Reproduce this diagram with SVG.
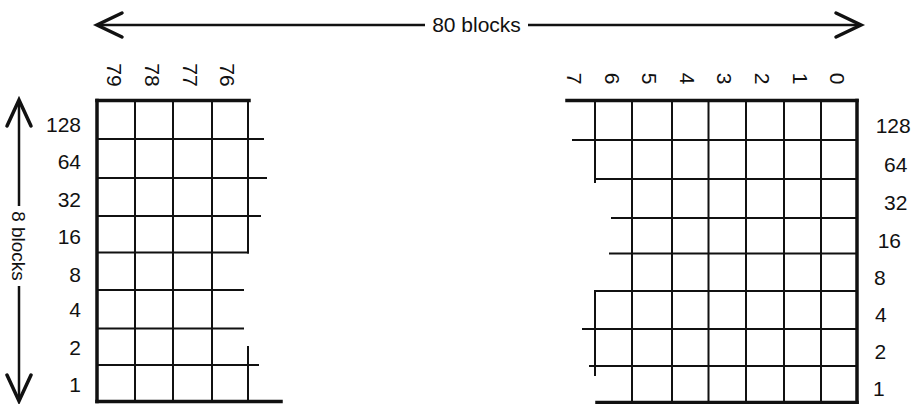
<svg xmlns="http://www.w3.org/2000/svg" width="922" height="404" viewBox="0 0 922 404">
<style>
  .bg{fill:#fff}
  .g{stroke:#111;stroke-width:2;fill:none;stroke-linecap:square}
  .t{stroke:#111;stroke-width:3.5;fill:none;stroke-linecap:square}
  .ar{stroke:#111;stroke-width:2.5;fill:none}
  .ah{stroke:#111;stroke-width:3.5;fill:none;stroke-linejoin:miter;stroke-linecap:round}
  text{font-family:"Liberation Sans",Arial,sans-serif;font-size:21px;fill:#111}
  .rl{text-anchor:end}
  .vt{text-anchor:middle}
</style>
<rect class="bg" x="0" y="0" width="922" height="404"/>

<g id="connectors">
  <g id="width-arrow">
    <line class="ar" x1="98" y1="25" x2="425" y2="25"/>
    <line class="ar" x1="528" y1="25" x2="860" y2="25"/>
    <polyline class="ah" points="122,13 97,25 122,37"/>
    <polyline class="ah" points="836,13 861,25 836,37"/>
    <text x="476.5" y="32" text-anchor="middle">80 blocks</text>
  </g>
  <g id="height-arrow">
    <line class="ar" x1="19" y1="101" x2="19" y2="206"/>
    <line class="ar" x1="19" y1="286" x2="19" y2="400"/>
    <polyline class="ah" points="7,126 19,100 31,126"/>
    <polyline class="ah" points="7,375 19,401 31,375"/>
    <text class="vt" transform="translate(12,246) rotate(90)" style="font-size:19px">8 blocks</text>
  </g>
</g>

<g id="left-grid">
  <line class="g" x1="135" y1="101" x2="135" y2="401"/>
  <line class="g" x1="173" y1="101" x2="173" y2="401"/>
  <line class="g" x1="212" y1="101" x2="212" y2="401"/>
  <line class="g" x1="248" y1="101" x2="248" y2="252.5"/>
  <line class="g" x1="248" y1="347" x2="248" y2="401"/>
  <line class="g" x1="97" y1="139" x2="263" y2="139"/>
  <line class="g" x1="97" y1="178" x2="266" y2="178"/>
  <line class="g" x1="97" y1="216" x2="260" y2="216"/>
  <line class="g" x1="97" y1="252.5" x2="248" y2="252.5"/>
  <line class="g" x1="97" y1="290" x2="243" y2="290"/>
  <line class="g" x1="97" y1="328.5" x2="243" y2="328.5"/>
  <line class="g" x1="97" y1="365" x2="258" y2="365"/>
  <line class="t" x1="97" y1="100.5" x2="249" y2="100.5"/>
  <line class="t" x1="97" y1="100.5" x2="97" y2="401.5"/>
  <line class="t" x1="97" y1="401.5" x2="281" y2="401.5"/>
</g>

<g id="left-labels">
  <text class="vt" transform="translate(107,75) rotate(90)">79</text>
  <text class="vt" transform="translate(145,75) rotate(90)">78</text>
  <text class="vt" transform="translate(183,75) rotate(90)">77</text>
  <text class="vt" transform="translate(220,75) rotate(90)">76</text>
  <text class="rl" x="81" y="131.7">128</text>
  <text class="rl" x="81" y="169">64</text>
  <text class="rl" x="81" y="206.7">32</text>
  <text class="rl" x="81" y="244">16</text>
  <text class="rl" x="81" y="281.7">8</text>
  <text class="rl" x="81" y="317.3">4</text>
  <text class="rl" x="81" y="355">2</text>
  <text class="rl" x="81" y="391.7">1</text>
</g>

<g id="right-grid">
  <line class="g" x1="595" y1="101" x2="595" y2="182"/>
  <line class="g" x1="595" y1="291" x2="595" y2="375"/>
  <line class="g" x1="632" y1="101" x2="632" y2="402"/>
  <line class="g" x1="672" y1="101" x2="672" y2="402"/>
  <line class="g" x1="708.5" y1="101" x2="708.5" y2="402"/>
  <line class="g" x1="746" y1="101" x2="746" y2="402"/>
  <line class="g" x1="784" y1="101" x2="784" y2="402"/>
  <line class="g" x1="821" y1="101" x2="821" y2="402"/>
  <line class="g" x1="573" y1="140" x2="857" y2="140"/>
  <line class="g" x1="595" y1="179" x2="857" y2="179"/>
  <line class="g" x1="612" y1="218" x2="857" y2="218"/>
  <line class="g" x1="610" y1="253.5" x2="857" y2="253.5"/>
  <line class="g" x1="595" y1="291" x2="857" y2="291"/>
  <line class="g" x1="583" y1="329" x2="857" y2="329"/>
  <line class="g" x1="590" y1="366" x2="857" y2="366"/>
  <line class="t" x1="567" y1="100.5" x2="857" y2="100.5"/>
  <line class="t" x1="857" y1="100.5" x2="857" y2="402.5"/>
  <line class="t" x1="597" y1="402.5" x2="857" y2="402.5"/>
</g>

<g id="right-labels">
  <text class="vt" transform="translate(567,78.5) rotate(90)">7</text>
  <text class="vt" transform="translate(605,78.5) rotate(90)">6</text>
  <text class="vt" transform="translate(642,78.5) rotate(90)">5</text>
  <text class="vt" transform="translate(680,78.5) rotate(90)">4</text>
  <text class="vt" transform="translate(717,78.5) rotate(90)">3</text>
  <text class="vt" transform="translate(755,78.5) rotate(90)">2</text>
  <text class="vt" transform="translate(793,78.5) rotate(90)">1</text>
  <text class="vt" transform="translate(830,78.5) rotate(90)">0</text>
  <text x="875.7" y="133.3">128</text>
  <text x="884" y="171.7">64</text>
  <text x="884" y="210">32</text>
  <text x="877.7" y="248.3">16</text>
  <text x="874" y="285">8</text>
  <text x="875" y="321.7">4</text>
  <text x="874.4" y="359">2</text>
  <text x="873" y="396">1</text>
</g>
</svg>
